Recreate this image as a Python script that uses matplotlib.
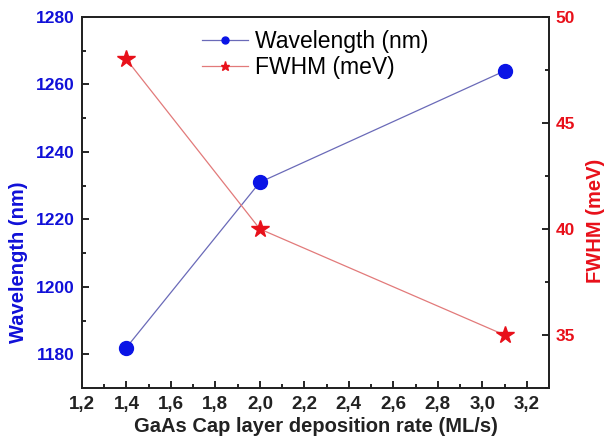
import matplotlib
matplotlib.use("Agg")
import matplotlib.pyplot as plt
from matplotlib.ticker import MultipleLocator, FuncFormatter

plt.rcParams["font.family"] = ["Liberation Sans", "DejaVu Sans"]

# ───────────── data ─────────────
rate = [1.4, 2.0, 3.1]                 # GaAs cap deposition rate (ML/s)
wavelength = [1182, 1231, 1264]        # nm
fwhm = [48.0, 40.0, 35.0]              # meV

blue = "#1010d8"
red = "#e8101a"

fig = plt.figure(figsize=(6.05, 4.42), dpi=100)
ax = fig.add_axes([0.1355, 0.1222, 0.7719, 0.8393])
ax2 = ax.twinx()

l1, = ax.plot(rate, wavelength, color="#6a6ab8", lw=0.9, marker="o", ms=10,
              mfc="#0a14e6", mec="#0a14e6", label="Wavelength (nm)")
l2, = ax2.plot(rate, fwhm, color="#e27a7a", lw=0.9, marker="*", ms=13,
               mfc=red, mec=red, label="FWHM (meV)")

ax.set_xlim(1.2, 3.3)
ax.set_ylim(1170, 1280)
ax2.set_ylim(32.5, 50)

ax.xaxis.set_major_locator(MultipleLocator(0.2))
ax.xaxis.set_minor_locator(MultipleLocator(0.1))
ax.xaxis.set_major_formatter(FuncFormatter(lambda v, p: f"{v:.1f}".replace(".", ",")))
ax.yaxis.set_major_locator(MultipleLocator(20))
ax.yaxis.set_minor_locator(MultipleLocator(10))
ax2.yaxis.set_major_locator(MultipleLocator(5))
ax2.yaxis.set_minor_locator(MultipleLocator(2.5))

for a in (ax, ax2):
    a.tick_params(which="both", direction="in", width=1.2)
    a.tick_params(which="major", length=5)
    a.tick_params(which="minor", length=3)
    for s in a.spines.values():
        s.set_linewidth(1.3)
        s.set_color("#222222")

ax.tick_params(axis="x", labelsize=13.5, labelcolor="#222222", pad=6)
ax.tick_params(axis="y", labelsize=12.5, labelcolor=blue, pad=5)
ax2.tick_params(axis="y", labelsize=12.5, labelcolor=red, pad=5)
for lab in ax.get_xticklabels() + ax.get_yticklabels() + ax2.get_yticklabels():
    lab.set_fontweight("bold")

ax.set_xlabel("GaAs Cap layer deposition rate (ML/s)", fontsize=14.5,
              fontweight="bold", color="#222222", labelpad=3)
ax.set_ylabel("Wavelength (nm)", fontsize=14.5, fontweight="bold", color=blue, labelpad=6)
ax2.set_ylabel("FWHM (meV)", fontsize=14.5, fontweight="bold", color=red, labelpad=8)
# labels sit a bit below the axis centre in the original
ax.yaxis.label.set_y(0.34)
ax2.yaxis.label.set_y(0.45)

ax.legend([l1, l2], [l1.get_label(), l2.get_label()], loc="upper center",
          bbox_to_anchor=(0.5, 1.0), frameon=False, fontsize=16.5,
          markerscale=0.5, handlelength=2.0, handletextpad=0.3, labelspacing=0.15,
          borderaxespad=0.15)

fig.savefig("out.png", dpi=100)
